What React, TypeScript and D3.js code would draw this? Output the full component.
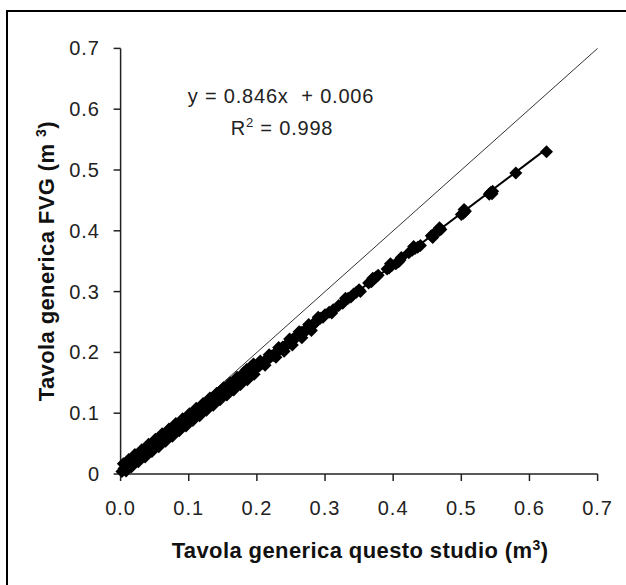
import React from 'react';
import * as d3 from 'd3';

const WIDTH = 626;
const HEIGHT = 585;
const PLOT = { left: 120.6, right: 597.6, top: 48.4, bottom: 474 };

const X_TICKS = [0, 0.1, 0.2, 0.3, 0.4, 0.5, 0.6, 0.7];
const X_TICK_LABELS = ['0.0', '0.1', '0.2', '0.3', '0.4', '0.5', '0.6', '0.7'];
const Y_TICKS = [0, 0.1, 0.2, 0.3, 0.4, 0.5, 0.6, 0.7];
const Y_TICK_LABELS = ['0', '0.1', '0.2', '0.3', '0.4', '0.5', '0.6', '0.7'];

// volume pairs (questo studio, FVG)
const VOL_STUDIO = [
  0.002, 0.005, 0.008, 0.010, 0.013, 0.015, 0.018, 0.020, 0.022, 0.025,
  0.027, 0.030, 0.032, 0.035, 0.037, 0.040, 0.042, 0.045, 0.047, 0.050,
  0.052, 0.055, 0.057, 0.060, 0.062, 0.065, 0.067, 0.070, 0.072, 0.075,
  0.077, 0.080, 0.082, 0.085, 0.087, 0.090, 0.092, 0.095, 0.097, 0.100,
  0.102, 0.105, 0.107, 0.110, 0.112, 0.115, 0.117, 0.120, 0.122, 0.125,
  0.127, 0.130, 0.133, 0.135, 0.138, 0.140, 0.143, 0.146, 0.148, 0.150,
  0.153, 0.156, 0.158, 0.161, 0.164, 0.166, 0.169, 0.172, 0.175, 0.178,
  0.181, 0.184, 0.187, 0.190, 0.194, 0.197, 0.200, 0.204, 0.208, 0.212,
  0.216, 0.221, 0.226, 0.231, 0.236, 0.242, 0.248, 0.253, 0.258, 0.265,
  0.270, 0.276, 0.282, 0.288, 0.293, 0.300, 0.306, 0.312, 0.320, 0.334,
  0.342, 0.350, 0.364, 0.372, 0.378, 0.391, 0.398, 0.404, 0.412, 0.423,
  0.432, 0.440, 0.456, 0.463, 0.470, 0.500, 0.506, 0.541, 0.546, 0.580,
  0.625,
  // upper edge of the dense band
  0.004, 0.012, 0.021, 0.031, 0.041, 0.051, 0.061, 0.071, 0.081, 0.091,
  0.101, 0.111, 0.121, 0.131, 0.141, 0.151, 0.161, 0.171, 0.181, 0.185,
  0.191, 0.195, 0.205, 0.218, 0.232, 0.248, 0.262, 0.276, 0.290,
  // lower edge of the dense band
  0.008, 0.016, 0.026, 0.036, 0.046, 0.056, 0.066, 0.076, 0.086, 0.096,
  0.106, 0.116, 0.126, 0.136, 0.146, 0.156, 0.166, 0.176, 0.186, 0.196,
  0.212, 0.228, 0.240, 0.252, 0.266, 0.280,
  // clusters along the upper range
  0.297, 0.310, 0.326, 0.338, 0.346, 0.368, 0.375, 0.394, 0.408, 0.428,
  0.436, 0.460, 0.467, 0.503, 0.543, 0.330, 0.352, 0.370, 0.396, 0.410,
  0.430, 0.458, 0.468, 0.504, 0.545,
  // fill between 0.2 and 0.3
  0.210, 0.224, 0.238, 0.245, 0.256, 0.268, 0.273, 0.285,
];
const VOL_FVG = [
  0.004, 0.009, 0.011, 0.013, 0.017, 0.018, 0.022, 0.024, 0.026, 0.028,
  0.030, 0.032, 0.035, 0.036, 0.039, 0.041, 0.044, 0.044, 0.047, 0.049,
  0.052, 0.052, 0.056, 0.057, 0.060, 0.060, 0.064, 0.065, 0.068, 0.068,
  0.072, 0.073, 0.076, 0.076, 0.080, 0.081, 0.084, 0.084, 0.088, 0.089,
  0.093, 0.093, 0.096, 0.097, 0.101, 0.100, 0.104, 0.105, 0.108, 0.108,
  0.113, 0.112, 0.117, 0.115, 0.120, 0.120, 0.126, 0.126, 0.130, 0.131,
  0.134, 0.134, 0.139, 0.140, 0.144, 0.143, 0.148, 0.151, 0.153, 0.154,
  0.159, 0.161, 0.164, 0.166, 0.171, 0.172, 0.176, 0.178, 0.182, 0.186,
  0.188, 0.194, 0.196, 0.203, 0.206, 0.211, 0.217, 0.222, 0.225, 0.233,
  0.236, 0.241, 0.245, 0.253, 0.256, 0.262, 0.266, 0.270, 0.277, 0.289,
  0.296, 0.303, 0.314, 0.321, 0.327, 0.337, 0.343, 0.346, 0.356, 0.364,
  0.371, 0.376, 0.392, 0.398, 0.402, 0.427, 0.432, 0.460, 0.465, 0.495,
  0.530,
  0.017, 0.024, 0.032, 0.040, 0.049, 0.057, 0.066, 0.074, 0.083, 0.091,
  0.099, 0.108, 0.116, 0.125, 0.133, 0.142, 0.150, 0.159, 0.167, 0.172,
  0.176, 0.181, 0.186, 0.196, 0.208, 0.222, 0.234, 0.246, 0.258,
  0.005, 0.012, 0.020, 0.028, 0.037, 0.045, 0.054, 0.062, 0.071, 0.079,
  0.088, 0.096, 0.105, 0.113, 0.122, 0.130, 0.138, 0.147, 0.155, 0.164,
  0.179, 0.192, 0.202, 0.212, 0.224, 0.236,
  0.258, 0.265, 0.281, 0.291, 0.299, 0.316, 0.324, 0.339, 0.349, 0.368,
  0.373, 0.395, 0.400, 0.429, 0.463, 0.289, 0.300, 0.322, 0.346, 0.352,
  0.374, 0.389, 0.405, 0.435, 0.461,
  0.184, 0.195, 0.209, 0.213, 0.224, 0.232, 0.237, 0.248,
];

const SLOPE = 0.846;
const INTERCEPT = 0.006;
const FIT_RANGE = [0, 0.625];
const IDENTITY_RANGE = [0, 0.7];

const FONT = '"Liberation Sans", Arial, sans-serif';

export default function App() {
  const x = d3.scaleLinear().domain([0, 0.7]).range([PLOT.left, PLOT.right]);
  const y = d3.scaleLinear().domain([0, 0.7]).range([PLOT.bottom, PLOT.top]);

  const points = VOL_STUDIO.map((v, i) => [v, VOL_FVG[i]]);
  const line = d3
    .line<number[]>()
    .x((d) => x(d[0]))
    .y((d) => y(d[1]));

  const identity = line(IDENTITY_RANGE.map((v) => [v, v])) ?? '';
  const fit = line(FIT_RANGE.map((v) => [v, SLOPE * v + INTERCEPT])) ?? '';
  const r = 6.5;
  const diamond = `M0,${-r}L${r},0L0,${r}L${-r},0Z`;

  return (
    <svg
      width={WIDTH}
      height={HEIGHT}
      style={{ position: 'absolute', left: 0, top: 0, background: '#fff' }}
      fontFamily={FONT}
    >
      <rect x={7} y={11} width={WIDTH + 10} height={HEIGHT + 10} fill="#fff" stroke="#000" strokeWidth={2} />

      {/* axes */}
      <line x1={PLOT.left} x2={PLOT.left} y1={PLOT.top} y2={PLOT.bottom} stroke="#222" strokeWidth={1.5} />
      <line x1={PLOT.left} x2={PLOT.right} y1={PLOT.bottom} y2={PLOT.bottom} stroke="#222" strokeWidth={1.5} />
      {Y_TICKS.map((t, i) => (
        <g key={`y-${t}`}>
          <line x1={PLOT.left - 7} x2={PLOT.left} y1={y(t)} y2={y(t)} stroke="#222" strokeWidth={1.5} />
          <text x={100} y={y(t) + 7} textAnchor="end" fontSize={20} letterSpacing={1} fill="#222">
            {Y_TICK_LABELS[i]}
          </text>
        </g>
      ))}
      {X_TICKS.map((t, i) => (
        <g key={`x-${t}`}>
          <line x1={x(t)} x2={x(t)} y1={PLOT.bottom} y2={PLOT.bottom + 7} stroke="#222" strokeWidth={1.5} />
          <text x={x(t)} y={515} textAnchor="middle" fontSize={20} letterSpacing={1} fill="#222">
            {X_TICK_LABELS[i]}
          </text>
        </g>
      ))}

      {/* 1:1 line */}
      <path d={identity} fill="none" stroke="#333" strokeWidth={1} />

      {/* points */}
      {points.map((p, i) => (
        <path key={i} d={diamond} transform={`translate(${x(p[0])},${y(p[1])})`} fill="#000" />
      ))}

      {/* regression */}
      <path d={fit} fill="none" stroke="#000" strokeWidth={2} />

      <text x={281} y={103} textAnchor="middle" fontSize={20} letterSpacing={0.8} fill="#222">
        y = 0.846x {'\u00a0'}+ 0.006
      </text>
      <text x={282} y={135} textAnchor="middle" fontSize={20} letterSpacing={0.8} fill="#222">
        R<tspan dy={-8} fontSize={13}>2</tspan>
        <tspan dy={8}> = 0.998</tspan>
      </text>

      <text x={360} y={558} textAnchor="middle" fontSize={22} fontWeight="bold" letterSpacing={0.4} fill="#111">
        Tavola generica questo studio (m<tspan dy={-8} fontSize={14}>3</tspan>
        <tspan dy={8}>)</tspan>
      </text>
      <text
        transform={`translate(54, ${(PLOT.top + PLOT.bottom) / 2}) rotate(-90)`}
        textAnchor="middle"
        fontSize={22}
        fontWeight="bold"
        letterSpacing={0.4}
        fill="#111"
      >
        Tavola generica FVG (m <tspan dy={-8} fontSize={14}>3</tspan>
        <tspan dy={8}>)</tspan>
      </text>
    </svg>
  );
}
